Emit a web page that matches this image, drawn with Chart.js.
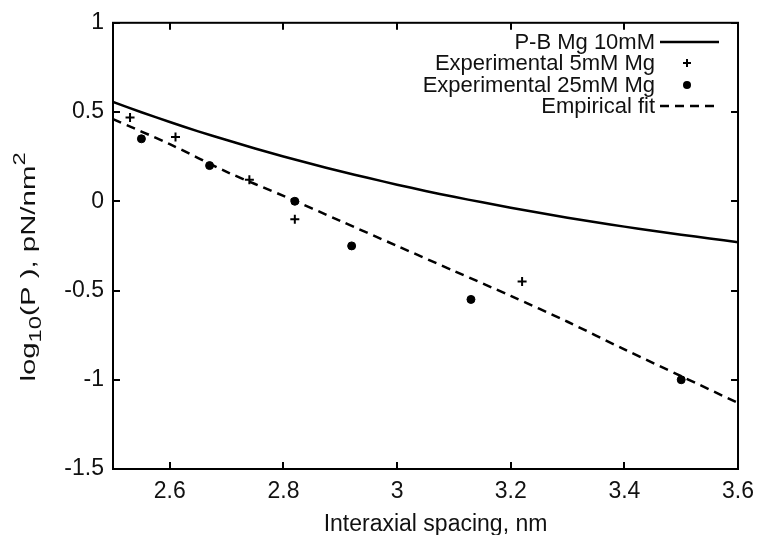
<!DOCTYPE html>
<html><head><meta charset="utf-8">
<script src="https://cdn.jsdelivr.net/npm/chart.js@4.4.0/dist/chart.umd.min.js"></script>
<style>html,body{margin:0;padding:0;background:#fff}#wrap{width:763px;height:535px;position:relative}</style>
</head><body><div id="wrap"><canvas id="c" width="763" height="535"></canvas></div>
<script>
// ---- data ----
const pbX = [2.5,2.55,2.6,2.65,2.7,2.75,2.8,2.85,2.9,2.95,3.0,3.05,3.1,3.15,3.2,3.25,3.3,3.35,3.4,3.45,3.5,3.55,3.6];
const pbY = [0.556,0.499,0.444,0.392,0.343,0.296,0.251,0.209,0.168,0.130,0.093,0.058,0.025,-0.006,-0.036,-0.064,-0.092,-0.117,-0.142,-0.165,-0.187,-0.208,-0.229];
const fitX = [2.5,2.6,2.7,2.8,2.9,3.0,3.1,3.2,3.3,3.4,3.5,3.6];
const fitY = [0.46,0.32,0.165,0.03,-0.11,-0.25,-0.39,-0.53,-0.675,-0.83,-0.98,-1.13];
const mg5X = [2.53,2.61,2.74,2.82,3.22];
const mg5Y = [0.47,0.36,0.12,-0.10,-0.45];
const mg25X = [2.55,2.67,2.82,2.92,3.13,3.50];
const mg25Y = [0.35,0.20,0.00,-0.25,-0.55,-1.00];
const xTicks = [2.6,2.8,3.0,3.2,3.4,3.6];
const yTicks = [-1.5,-1,-0.5,0,0.5,1];
const seriesNames = ['P-B Mg 10mM','Experimental 5mM Mg','Experimental 25mM Mg','Empirical fit'];
const xTitle = 'Interaxial spacing, nm';
const yTitleParts = [['log','n'],['10','sub'],['(P ), pN/nm','n'],['2','sup']];

const FONT = '"Liberation Sans", Arial, sans-serif';
const FS = 23;
const LFS = 22;
const TXT = '#111';

const toPts = (xs, ys) => xs.map((x, i) => ({x, y: ys[i]}));

const framePlugin = {
  id: 'frame',
  afterDatasetsDraw(chart) {
    const {ctx, chartArea: a, scales} = chart;
    ctx.save();
    ctx.strokeStyle = '#000';
    ctx.lineWidth = 2;
    ctx.strokeRect(a.left, a.top, a.right - a.left, a.bottom - a.top);
    const L = 7;
    ctx.beginPath();
    xTicks.forEach(v => {
      const px = Math.round(scales.x.getPixelForValue(v));
      ctx.moveTo(px, a.bottom); ctx.lineTo(px, a.bottom - L);
      ctx.moveTo(px, a.top); ctx.lineTo(px, a.top + L);
    });
    yTicks.forEach(v => {
      const py = Math.round(scales.y.getPixelForValue(v));
      ctx.moveTo(a.left, py); ctx.lineTo(a.left + L, py);
      ctx.moveTo(a.right, py); ctx.lineTo(a.right - L, py);
    });
    ctx.stroke();
    ctx.restore();
  },
  afterDraw(chart) {
    const {ctx, chartArea: a} = chart;
    ctx.save();
    ctx.fillStyle = TXT;
    ctx.font = FS + 'px ' + FONT;
    // x title
    ctx.textAlign = 'center';
    ctx.textBaseline = 'alphabetic';
    ctx.fillText(xTitle, (a.left + a.right) / 2 + 10, 531);
    // y title (rotated, with sub/superscript, stretched along its length like the reference)
    const YF = 21, small = 17, stretch = 1.4;
    const widths = yTitleParts.map(([t, k]) => {
      ctx.font = (k === 'n' ? YF : small) + 'px ' + FONT;
      return ctx.measureText(t).width;
    });
    const total = widths.reduce((s, w) => s + w, 0);
    ctx.translate(35, 267);
    ctx.rotate(-Math.PI / 2);
    ctx.scale(stretch, 1);
    let cx = -total / 2;
    ctx.textAlign = 'left';
    yTitleParts.forEach(([t, k], i) => {
      ctx.font = (k === 'n' ? YF : small) + 'px ' + FONT;
      const dy = k === 'sub' ? 6 : (k === 'sup' ? -10 : 0);
      ctx.fillText(t, cx, dy);
      cx += widths[i];
    });
    ctx.restore();

    // legend
    ctx.save();
    ctx.font = LFS + 'px ' + FONT;
    ctx.fillStyle = TXT;
    ctx.textAlign = 'right';
    ctx.textBaseline = 'middle';
    const rows = [42, 63, 85, 106];
    const tx = 655, s0 = 660, s1 = 719, sm = 687;
    rows.forEach((y, i) => ctx.fillText(seriesNames[i], tx, y + 1));
    ctx.strokeStyle = '#000';
    ctx.lineWidth = 2.5;
    ctx.beginPath(); ctx.moveTo(s0, rows[0]); ctx.lineTo(s1, rows[0]); ctx.stroke();
    ctx.lineWidth = 2;
    ctx.beginPath();
    ctx.moveTo(sm - 4, rows[1]); ctx.lineTo(sm + 4, rows[1]);
    ctx.moveTo(sm, rows[1] - 4); ctx.lineTo(sm, rows[1] + 4);
    ctx.stroke();
    ctx.fillStyle = '#000';
    ctx.beginPath(); ctx.arc(sm, rows[2], 4, 0, Math.PI * 2); ctx.fill();
    ctx.lineWidth = 2.5;
    ctx.setLineDash([9, 6]);
    ctx.beginPath(); ctx.moveTo(s0, rows[3]); ctx.lineTo(s1, rows[3]); ctx.stroke();
    ctx.restore();
  }
};

new Chart(document.getElementById('c'), {
  type: 'scatter',
  data: {
    datasets: [
      {label: seriesNames[0], data: toPts(pbX, pbY), showLine: true, borderColor: '#000', borderWidth: 2.5, pointRadius: 0, tension: 0.3, fill: false},
      {label: seriesNames[1], data: toPts(mg5X, mg5Y), showLine: false, pointStyle: 'cross', pointRadius: 4.5, borderColor: '#000', borderWidth: 2, backgroundColor: '#000'},
      {label: seriesNames[2], data: toPts(mg25X, mg25Y), showLine: false, pointStyle: 'circle', pointRadius: 4, borderColor: '#000', borderWidth: 1, backgroundColor: '#000'},
      {label: seriesNames[3], data: toPts(fitX, fitY), showLine: true, borderColor: '#000', borderWidth: 2.5, borderDash: [9, 6], pointRadius: 0, tension: 0.3, fill: false}
    ]
  },
  options: {
    responsive: false,
    animation: false,
    devicePixelRatio: 1,
    layout: {padding: {top: 17, right: 22, left: 0, bottom: 0}},
    plugins: {legend: {display: false}, tooltip: {enabled: false}},
    scales: {
      x: {
        type: 'linear', min: 2.5, max: 3.6,
        afterBuildTicks: s => { s.ticks = xTicks.map(v => ({value: v})); },
        afterFit: s => { s.height = 66; },
        grid: {display: false, drawTicks: false},
        border: {display: false},
        ticks: {font: {family: FONT, size: FS}, color: TXT, padding: 9, maxRotation: 0,
          callback: v => String(v)}
      },
      y: {
        type: 'linear', min: -1.5, max: 1,
        afterBuildTicks: s => { s.ticks = yTicks.map(v => ({value: v})); },
        afterFit: s => { s.width = 113; },
        grid: {display: false, drawTicks: false},
        border: {display: false},
        ticks: {font: {family: FONT, size: FS}, color: TXT, padding: 9,
          callback: v => String(v)}
      }
    }
  },
  plugins: [framePlugin]
});
</script></body></html>
